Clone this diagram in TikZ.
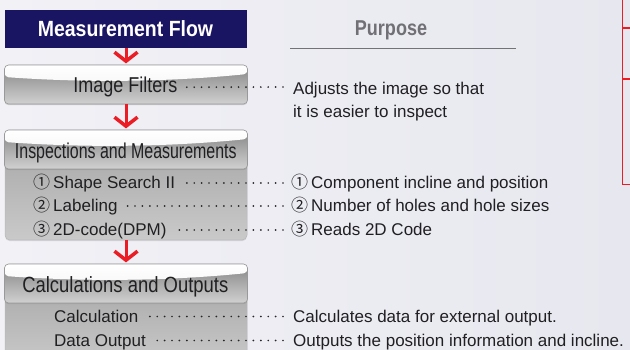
\documentclass[tikz,border=0pt]{standalone}
\usepackage{fontspec}
\setmainfont{Liberation Sans}
\newfontfamily\cjk{Noto Sans CJK JP}
\usepackage{graphicx}
\usetikzlibrary{shadows}
\definecolor{navy}{RGB}{26,21,99}
\definecolor{redc}{RGB}{236,28,36}
\definecolor{bgA}{RGB}{241,241,246}
\definecolor{bgB}{RGB}{231,231,239}
\definecolor{txt}{RGB}{32,32,35}
\definecolor{purp}{RGB}{112,112,117}
\newcommand\cnd[2]{\scalebox{#1}[1]{#2}}
\newcommand\cn[1]{{\cjk #1}\hspace{3pt}}
\begin{document}
\begin{tikzpicture}[x=1pt,y=-1pt,
  hdrbox/.style={draw=black!40, line width=0.6pt, rounded corners=4pt, inner sep=0pt,
    minimum width=243pt, minimum height=39pt, top color=black!48, bottom color=black!18,
    drop shadow={shadow xshift=0pt, shadow yshift=-1.2pt, opacity=0.3},
    path picture={\shade[top color=white, bottom color=black!6]
      (path picture bounding box.north west) -- (path picture bounding box.north east)
      -- ([yshift=-9pt]path picture bounding box.north east)
      .. controls +(-90pt,-9pt) and +(70pt,-5pt) .. ([yshift=-12pt]path picture bounding box.north west) -- cycle;}},
  bodybox/.style={draw=black!28, line width=0.5pt, rounded corners=5pt, inner sep=0pt,
    minimum width=242pt, top color=black!33, bottom color=black!21,
    drop shadow={shadow xshift=0pt, shadow yshift=-1.2pt, opacity=0.25}},
  hdrtxt/.style={font=\fontsize{21.5}{21.5}\selectfont, text=txt, inner sep=0pt, anchor=base},
  itm/.style={font=\fontsize{17}{17}\selectfont, text=txt, inner sep=0pt, anchor=base west},
  leader/.style={draw=black!85, line width=1.9pt, line cap=round, dash pattern=on 0pt off 7.4pt},
  redstem/.style={draw=redc, line width=3pt},
  redhead/.style={draw=redc, line width=3.5pt, miter limit=10},
  redline/.style={draw=redc, line width=1.5pt}]
\useasboundingbox (0,0) rectangle (630,350);
\clip (0,0) rectangle (630,350);
\shade[left color=bgA, right color=bgB] (0,0) rectangle (630,350);

% red bracket at right
\draw[redline] (640,28) -- (622.3,28);
\draw[redline] (640,79) -- (622.3,79);
\draw[redline] (622.3,-5) -- (622.3,184.3) -- (640,184.3);

% headings
\node[fill=navy, minimum width=242pt, minimum height=38pt, inner sep=0pt] (mfb) at (126,29) {};
\node[hdrtxt, text=white, font=\fontsize{22}{22}\selectfont\bfseries] (mft) at (125.5,36.3) {\cnd{0.885}{Measurement Flow}};
\node[hdrtxt, text=purp, font=\fontsize{21.5}{21.5}\selectfont\bfseries] (pur) at (391,35.5) {\cnd{0.84}{Purpose}};
\draw[black!55, line width=0.9pt] (290,48.3) -- (516,48.3);

% boxes
\node[bodybox, minimum height=90pt] (bd2) at (126,195) {};
\node[bodybox, minimum height=80pt] (bd3) at (126,325) {};
\node[hdrbox] (b1) at (126,84.5) {};
\node[hdrbox] (b2) at (126,149.5) {};
\node[hdrbox] (b3) at (126,283.5) {};

\node[hdrtxt] (t1) at (125.3,92.9) {\cnd{0.837}{Image Filters}};
\node[hdrtxt] (t2) at (125.8,158.2) {\cnd{0.742}{Inspections and Measurements}};
\node[hdrtxt, font=\fontsize{22}{22}\selectfont] (t3) at (125.3,292.2) {\cnd{0.838}{Calculations and Outputs}};

% arrows
\draw[redstem] (mfb.south) -- ([yshift=3pt]b1.north);
\draw[redhead] ([shift={(-11.5pt,12.5pt)}]b1.north) -- ([yshift=3.5pt]b1.north) -- ([shift={(11.5pt,12.5pt)}]b1.north);
\draw[redstem] (b1.south) -- ([yshift=3pt]b2.north);
\draw[redhead] ([shift={(-11.5pt,12.5pt)}]b2.north) -- ([yshift=3.5pt]b2.north) -- ([shift={(11.5pt,12.5pt)}]b2.north);
\draw[redstem] (bd2.south) -- ([yshift=3pt]b3.north);
\draw[redhead] ([shift={(-11.5pt,12.5pt)}]b3.north) -- ([yshift=3.5pt]b3.north) -- ([shift={(11.5pt,12.5pt)}]b3.north);

% items
\node[itm] (i1) at (33,189) {\cn{①}Shape Search II};
\node[itm] (i2) at (33,212) {\cn{②}Labeling};
\node[itm] (i3) at (33,236) {\cn{③}2D-code(DPM)};
\node[itm] (i4) at (54,322) {Calculation};
\node[itm] (i5) at (54,346) {Data Output};

% purposes
\node[itm] (p0a) at (293,95) {Adjusts the image so that};
\node[itm] (p0b) at (293,118) {it is easier to inspect};
\node[itm] (p1) at (291,189) {\cn{①}Component incline and position};
\node[itm] (p2) at (291,212) {\cn{②}Number of holes and hole sizes};
\node[itm] (p3) at (291,236) {\cn{③}Reads 2D Code};
\node[itm] (p4) at (293,322) {Calculates data for external output.};
\node[itm] (p5) at (293,346) {Outputs the position information and incline.};

% leaders
\draw[leader] ([xshift=-10pt,yshift=8pt]p0a.base west) -- ([xshift=7pt,yshift=5.7pt]t1.base east);
\draw[leader] ([xshift=-8pt,yshift=6pt]p1.base west) -- ([xshift=7pt,yshift=6pt]i1.base east);
\draw[leader] ([xshift=-8pt,yshift=6pt]p2.base west) -- ([xshift=7pt,yshift=6pt]i2.base east);
\draw[leader] ([xshift=-8pt,yshift=6pt]p3.base west) -- ([xshift=7pt,yshift=6pt]i3.base east);
\draw[leader] ([xshift=-10pt,yshift=5.5pt]p4.base west) -- ([xshift=7pt,yshift=5.5pt]i4.base east);
\draw[leader] ([xshift=-10pt,yshift=5.5pt]p5.base west) -- ([xshift=7pt,yshift=5.5pt]i5.base east);
\end{tikzpicture}
\end{document}
